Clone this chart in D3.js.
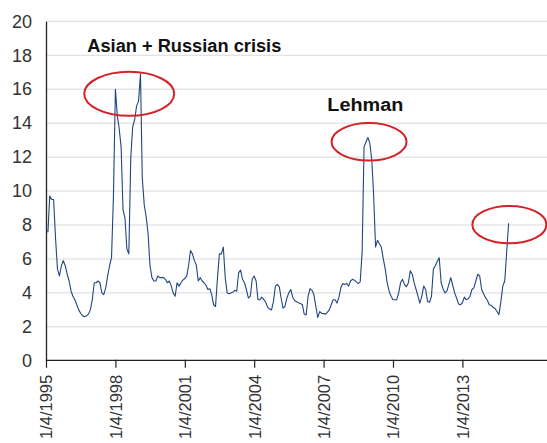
<!DOCTYPE html>
<html><head><meta charset="utf-8">
<script src="https://cdn.jsdelivr.net/npm/d3@7"></script>
<style>
html,body{margin:0;padding:0;background:#fff;overflow:hidden}
svg{display:block;font-family:"Liberation Sans",Arial,Helvetica,sans-serif}
</style></head><body>
<svg id="chart" width="547" height="443"></svg>
<script>
// ---- data ----
const seriesStart = "1/4/1995";           // first monthly observation
const seriesEnd = "9/1/2016";             // right end of the time axis
const values = [
  7.6, 7.6, 9.7, 9.5, 9.5, 7.2, 5.4, 5.0, 5.6, 5.9, 5.6, 5.1,
  4.7, 4.1, 3.8, 3.6, 3.3, 3.0, 2.8, 2.65, 2.6, 2.65, 2.75, 3.0,
  3.6, 4.6, 4.6, 4.7, 4.6, 4.0, 3.9, 4.3, 5.0, 5.6, 6.1, 9.7,
  16.0, 14.4, 13.7, 12.6, 8.9, 8.4, 6.6, 6.3, 12.0, 13.8, 14.2, 15.0,
  15.3, 16.9, 10.8, 9.2, 8.5, 7.5, 5.6, 4.9, 4.7, 4.7, 5.0, 4.9,
  4.9, 4.9, 4.8, 4.6, 4.7, 4.4, 4.0, 3.8, 4.6, 4.4, 4.6, 4.75,
  4.85, 5.0, 5.6, 6.5, 6.3, 5.9, 5.65, 4.7, 4.9, 4.7, 4.6, 4.45,
  4.2, 4.25, 3.9, 3.3, 3.2, 4.9, 6.3, 6.3, 6.7, 4.9, 4.0, 3.95,
  4.0, 4.05, 4.15, 4.1, 5.2, 5.34, 4.8, 4.6, 4.2, 3.7, 3.8, 4.8,
  5.0, 4.7, 3.6, 3.6, 3.75, 3.6, 3.45, 3.15, 3.05, 3.0, 3.5, 4.4,
  4.5, 4.35, 3.7, 3.1, 3.2, 3.7, 4.0, 4.2, 3.75, 3.55, 3.48, 3.42,
  3.38, 3.3, 2.75, 2.7, 3.8, 4.25, 4.15, 3.9, 3.2, 2.55, 2.9, 2.8,
  2.78, 2.75, 2.85, 3.0, 3.3, 3.6, 3.6, 3.4, 3.75, 4.3, 4.55, 4.5,
  4.55, 4.4, 4.7, 4.8, 4.75, 4.65, 4.55, 4.65, 6.4, 12.6, 12.9, 13.16,
  12.8, 11.8, 9.8, 6.7, 7.1, 6.9, 6.7, 6.0, 5.4, 4.6, 4.1, 3.8,
  3.6, 3.6, 3.6, 4.0, 4.6, 4.8, 4.5, 4.36, 4.6, 5.3, 5.1, 4.6,
  4.2, 3.8, 3.4, 3.8, 4.4, 4.2, 3.5, 3.45, 3.8, 5.4, 5.6, 5.85,
  6.07, 4.6, 4.25, 4.0, 4.1, 4.5, 4.9, 4.45, 4.0, 3.7, 3.35, 3.3,
  3.42, 3.75, 3.6, 3.65, 3.8, 4.2, 4.3, 4.7, 5.1, 5.0, 4.2, 3.95,
  3.72, 3.55, 3.3, 3.27, 3.15, 3.08, 2.9, 2.72, 3.5, 4.4, 4.7, 6.4,
  8.1
];
const tickLabels = ["1/4/1995","1/4/1998","1/4/2001","1/4/2004","1/4/2007","1/4/2010","1/4/2013"];
const yTicks = [0,2,4,6,8,10,12,14,16,18,20];
const annotationTexts = ["Asian + Russian crisis", "Lehman"];
const annotationTextAnchors = [["10/17/1996", 18.2], ["3/4/2007", 14.72]];
const circleAnchors = [["8/10/1998", 15.73], ["12/22/2008", 12.9], ["1/16/2015", 8.02]];

// ---- chart ----
const parse = d3.timeParse("%m/%d/%Y");
const start = parse(seriesStart);
const data = values.map((v, i) => ({ date: d3.timeMonth.offset(start, i), value: v }));

const svg = d3.select("#chart");
const x = d3.scaleTime().domain([start, parse(seriesEnd)]).range([46, 547]);
const y = d3.scaleLinear().domain([0, 20]).range([360.8, 21.3]);

// gridlines
svg.append("g").selectAll("line").data(yTicks.filter(t => t > 0)).join("line")
  .attr("x1", x.range()[0]).attr("x2", x.range()[1])
  .attr("y1", d => y(d)).attr("y2", d => y(d))
  .attr("stroke", "#d9d9dd").attr("stroke-width", 1);

// y axis
const yAxis = svg.append("g").attr("transform", `translate(${x.range()[0]},0)`)
  .call(d3.axisLeft(y).tickValues(yTicks).tickSize(0).tickSizeOuter(0).tickPadding(14));
yAxis.select(".domain").attr("stroke", "#222").attr("stroke-width", 1.3);
yAxis.selectAll("text").attr("font-size", 18).attr("fill", "#333").attr("font-family", "Liberation Sans, Arial, sans-serif");

// x axis
const xAxis = svg.append("g").attr("transform", `translate(0,${y(0) - 1})`)
  .call(d3.axisBottom(x).tickValues(tickLabels.map(parse)).tickFormat(d3.timeFormat("%-m/%-d/%Y"))
    .tickSize(8).tickSizeOuter(0));
xAxis.select(".domain").attr("stroke", "#222").attr("stroke-width", 1.3);
xAxis.selectAll(".tick line").attr("stroke", "#222").attr("stroke-width", 1.2);
xAxis.selectAll("text")
  .attr("font-size", 16.5).attr("fill", "#333").attr("font-family", "Liberation Sans, Arial, sans-serif")
  .attr("transform", "rotate(-90)").attr("text-anchor", "end")
  .attr("x", -15).attr("y", 0).attr("dy", "0.36em");

// line
svg.append("path").datum(data)
  .attr("fill", "none").attr("stroke", "#1f4680").attr("stroke-width", 1.1)
  .attr("stroke-linejoin", "round")
  .attr("d", d3.line().x(d => x(d.date)).y(d => y(d.value)));

// annotation ellipses
const ellipseSizes = [[45, 22], [37.5, 18.7], [37, 18.7]];
svg.append("g").selectAll("ellipse").data(circleAnchors).join("ellipse")
  .attr("cx", d => x(parse(d[0]))).attr("cy", d => y(d[1]))
  .attr("rx", (d, i) => ellipseSizes[i][0]).attr("ry", (d, i) => ellipseSizes[i][1])
  .attr("fill", "none").attr("stroke", "#d3222a").attr("stroke-width", 2);

// annotation texts
const textLengths = [194, 76];
svg.append("g").selectAll("text").data(annotationTexts).join("text")
  .attr("x", (d, i) => x(parse(annotationTextAnchors[i][0])))
  .attr("y", (d, i) => y(annotationTextAnchors[i][1]))
  .attr("font-size", 18).attr("font-weight", "bold").attr("fill", "#111")
  .attr("textLength", (d, i) => textLengths[i]).attr("lengthAdjust", "spacingAndGlyphs")
  .text(d => d);
</script>
</body></html>
